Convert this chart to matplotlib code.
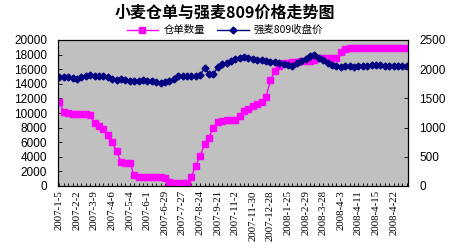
import matplotlib
matplotlib.use("Agg")
import matplotlib.pyplot as plt
from matplotlib.ticker import MultipleLocator, FixedLocator

plt.rcParams['font.family'] = ['Noto Sans CJK SC', 'DejaVu Sans']

tick_labels = ["2007-1-5", "2007-2-2", "2007-3-9", "2007-4-6", "2007-5-4", "2007-6-1",
               "2007-6-29", "2007-7-27", "2007-8-24", "2007-9-21", "2007-11-2", "2007-11-30",
               "2007-12-28", "2008-1-25", "2008-2-29", "2008-3-28", "2008-4-3", "2008-4-11",
               "2008-4-15", "2008-4-22"]

receipts = [11500, 10200, 10000, 9900, 9900, 9800, 9800, 9700, 8600, 8200,
            7800, 7000, 6000, 4800, 3300, 3200, 3200, 1500, 1300, 1300,
            1200, 1200, 1200, 1200, 1100, 500, 400, 400, 400, 400,
            1200, 2800, 4100, 5700, 6600, 8000, 8800, 8900, 9000, 9000,
            9100, 9600, 10300, 10600, 11000, 11200, 11500, 12200, 14500, 15800,
            16500, 16800, 16900, 17000, 17000, 17100, 17100, 17100, 17200, 17500,
            17500, 17500, 17600, 17600, 18300, 18700, 18900, 18900, 18900, 18900,
            18900, 18900, 18900, 18900, 18900, 18900, 18900, 18900, 18900, 18900]

price = [1870, 1870, 1860, 1850, 1830, 1860, 1880, 1900, 1890, 1890,
         1880, 1870, 1840, 1820, 1830, 1820, 1790, 1800, 1790, 1810,
         1800, 1790, 1780, 1770, 1780, 1800, 1840, 1880, 1890, 1880,
         1890, 1880, 1900, 2020, 1920, 1920, 2030, 2090, 2100, 2140,
         2180, 2200, 2210, 2190, 2170, 2160, 2150, 2140, 2130, 2120,
         2100, 2090, 2080, 2050, 2100, 2140, 2180, 2220, 2240, 2200,
         2160, 2100, 2080, 2060, 2040, 2060, 2050, 2040, 2050, 2060,
         2060, 2080, 2080, 2070, 2050, 2050, 2050, 2050, 2050, 2050]

x = list(range(len(receipts)))

fig = plt.figure(figsize=(4.5, 2.5), dpi=100)
fig.patch.set_facecolor('white')
ax = fig.add_axes([0.129, 0.256, 0.778, 0.584])
ax.set_facecolor('#C0C0C0')

l1, = ax.plot(x, receipts, color='#FF00FF', marker='s', markersize=4.5, linewidth=1.0,
              label='仓单数量')
ax.set_ylim(0, 20000)
ax.set_xlim(-0.3, len(x) - 0.7)
ax.yaxis.set_major_locator(MultipleLocator(2000))

ax2 = ax.twinx()
l2, = ax2.plot(x, price, color='#000080', marker='D', markersize=3.5, linewidth=1.0,
               label='强麦809收盘价')
ax2.set_ylim(0, 2500)
ax2.yaxis.set_major_locator(MultipleLocator(500))

ax.set_xticks(list(range(0, len(x), 4)))
ax.set_xticklabels(tick_labels, rotation=90, fontsize=7.8, family='Liberation Serif')
ax.xaxis.set_minor_locator(FixedLocator(x))
ax.tick_params(axis='x', which='both', direction='in', length=2, width=0.6, pad=3)
ax.tick_params(axis='y', direction='in', length=3, width=0.6, labelsize=8.5, pad=8)
ax2.tick_params(axis='y', direction='in', length=3, width=0.6, labelsize=8.5, pad=8)
for lab in ax.get_yticklabels() + ax2.get_yticklabels():
    lab.set_family('Liberation Sans')
for a in (ax, ax2):
    for s in a.spines.values():
        s.set_linewidth(0.8)

fig.text(0.5, 0.95, '小麦仓单与强麦809价格走势图', ha='center', va='center',
         fontsize=11.5, fontweight='bold')
fig.legend(handles=[l1, l2], loc='center', bbox_to_anchor=(0.5, 0.88), ncol=2,
           frameon=False, fontsize=7.5, handlelength=3, columnspacing=1.2,
           handletextpad=0.5, borderpad=0.1)

fig.savefig('out.png', dpi=100, facecolor='white')
